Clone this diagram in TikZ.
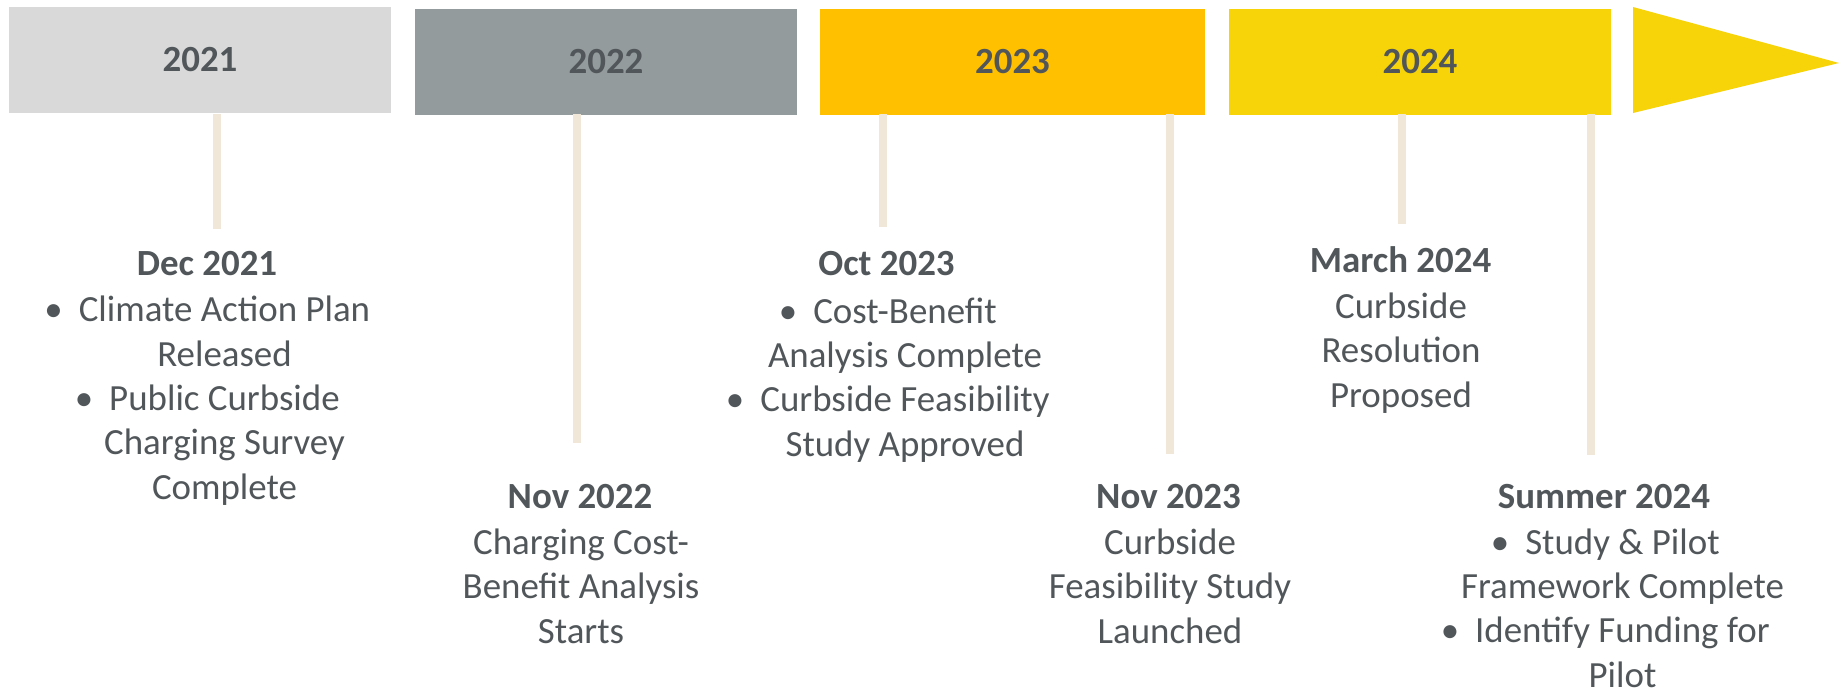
\documentclass[tikz,border=0pt]{standalone}
\usepackage{fontspec}
\setmainfont{Carlito}
\usetikzlibrary{positioning}
\definecolor{greyA}{RGB}{217,217,217}
\definecolor{greyB}{RGB}{148,155,156}
\definecolor{amber}{RGB}{255,192,0}
\definecolor{lemon}{RGB}{247,212,10}
\definecolor{stemcol}{RGB}{241,231,217}
\definecolor{ink}{RGB}{80,86,89}
\newcommand{\itm}{\llap{\textbullet\hspace{0.32cm}}}

\begin{document}
\begin{tikzpicture}
[x=0.02cm,y=-0.02cm,%
  every node/.style={text=ink,inner sep=0pt,font=\fontsize{21}{25.2}\selectfont},%
  yearbox/.style={minimum height=2.12cm,font=\fontsize{21}{25.2}\selectfont\bfseries},%
  datehd/.style={anchor=base,font=\fontsize{21}{25.2}\selectfont\bfseries},%
  body/.style={anchor=base,align=center},%
  stem/.style={draw=stemcol,line width=0.16cm}]
\useasboundingbox (0,0) rectangle (1839,691);
%% year bar
\node[yearbox,fill=greyA,minimum width=7.64cm] (y21) at (200,60) {2021};
\node[yearbox,fill=greyB,minimum width=7.64cm] (y22) at (606,62) {2022};
\node[yearbox,fill=amber,minimum width=7.70cm] (y23) at (1012.5,62) {2023};
\node[yearbox,fill=lemon,minimum width=7.64cm] (y24) at (1420,62) {2024};
\fill[lemon] (1633,7) -- (1839,63) -- (1633,113) -- cycle;
%% stems
\foreach \sx/\sy in {217/229, 577/443, 883/227, 1170/454, 1402/224, 1591/455}
{
  \draw[stem] (\sx,114) -- (\sx,\sy);
};
%% events (body nodes sit on the baseline of their last line)
\node[datehd] (d21) at (207,275) {Dec 2021};
\node[body] (t21) at (224.5,499) {\itm Climate Action Plan\\Released\\\itm Public Curbside\\Charging Survey\\Complete};
%%
\node[datehd] (d22) at (580,508) {Nov 2022};
\node[body] (t22) at (581,643) {Charging Cost-\\Benefit Analysis\\Starts};
%%
\node[datehd] (d23) at (886.5,275) {Oct 2023};
\node[body] (t23) at (905,456) {\itm Cost-Benefit\\Analysis Complete\\\itm Curbside Feasibility\\Study Approved};
%%
\node[datehd] (d23b) at (1168.5,508) {Nov 2023};
\node[body] (t23b) at (1170,643) {Curbside\\Feasibility Study\\Launched};
%%
\node[datehd] (d24) at (1400.5,272) {March 2024};
\node[body] (t24) at (1401,407) {Curbside\\Resolution\\Proposed};
%%
\node[datehd] (d24b) at (1604,508) {Summer 2024};
\node[body] (t24b) at (1622.5,687) {\itm Study \& Pilot\\Framework Complete\\\itm Identify Funding for\\Pilot};
\end{tikzpicture}
\end{document}
